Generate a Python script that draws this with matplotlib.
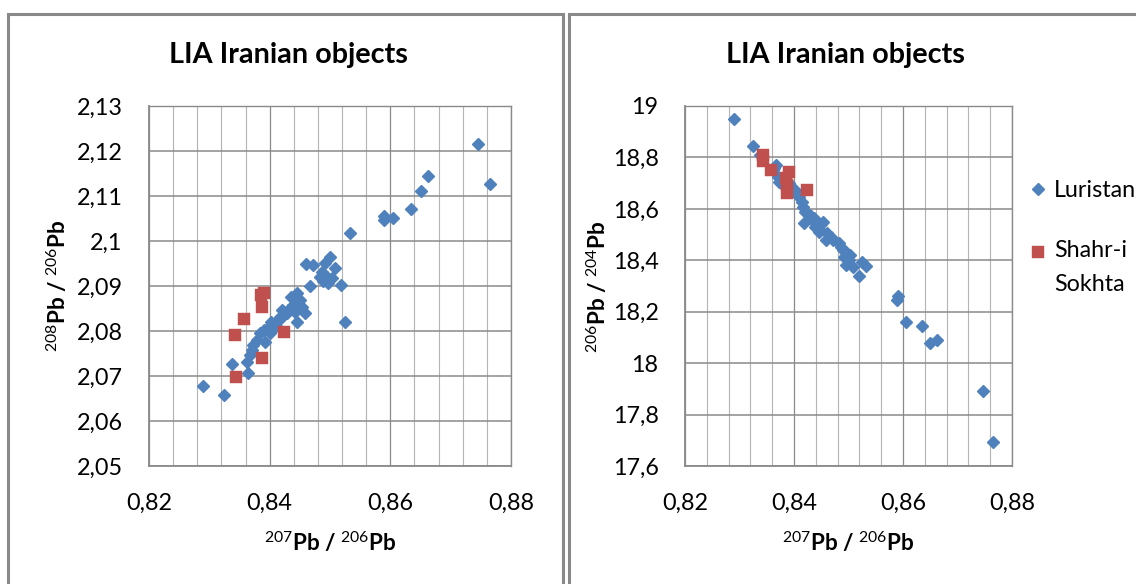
import matplotlib
matplotlib.use("Agg")
import matplotlib.pyplot as plt
from matplotlib.ticker import MultipleLocator, FuncFormatter
from matplotlib.patches import Rectangle
from matplotlib.legend_handler import HandlerLine2D

plt.rcParams['font.family'] = ['Lato', 'DejaVu Sans']
plt.rcParams['mathtext.fontset'] = 'custom'
plt.rcParams['mathtext.rm'] = 'Lato'
plt.rcParams['mathtext.bf'] = 'Lato:bold'

# ---------------- data ----------------
title_text = "LIA Iranian objects"
series_names = ["Luristan", "Shahr-i\nSokhta"]

lur_207_206 = [0.8289, 0.8324, 0.8337, 0.8362, 0.8364, 0.8367, 0.8370, 0.8373, 0.8379, 0.8384,
               0.8390, 0.8392, 0.8398, 0.8401, 0.8403, 0.8410, 0.8414, 0.8417, 0.8418, 0.8421,
               0.8429, 0.8431, 0.8436, 0.8439, 0.8442, 0.8445, 0.8445, 0.8450, 0.8453, 0.8459,
               0.8461, 0.8467, 0.8472, 0.8483, 0.8486, 0.8489, 0.8492, 0.8495, 0.8497, 0.8500,
               0.8503, 0.8508, 0.8519, 0.8525, 0.8533, 0.8589, 0.8590, 0.8605, 0.8635, 0.8650,
               0.8663, 0.8746, 0.8765]
lur_208_206 = [2.0678, 2.0658, 2.0726, 2.0732, 2.0706, 2.0747, 2.0758, 2.0769, 2.0780, 2.0795,
               2.0802, 2.0776, 2.0806, 2.0795, 2.0821, 2.0810, 2.0824, 2.0832, 2.0828, 2.0847,
               2.0840, 2.0847, 2.0876, 2.0858, 2.0843, 2.0884, 2.0821, 2.0869, 2.0854, 2.0839,
               2.0948, 2.0899, 2.0947, 2.0921, 2.0932, 2.0910, 2.0950, 2.0921, 2.0906, 2.0965,
               2.0917, 2.0939, 2.0902, 2.0819, 2.1018, 2.1056, 2.1047, 2.1050, 2.1070, 2.1110,
               2.1144, 2.1215, 2.1127]
lur_206_204 = [18.949, 18.846, 18.810, 18.751, 18.760, 18.771, 18.725, 18.706, 18.720, 18.686,
               18.700, 18.680, 18.670, 18.673, 18.660, 18.647, 18.628, 18.608, 18.544, 18.589,
               18.576, 18.560, 18.563, 18.531, 18.540, 18.511, 18.520, 18.540, 18.550, 18.479,
               18.505, 18.490, 18.479, 18.466, 18.450, 18.440, 18.414, 18.382, 18.427, 18.401,
               18.420, 18.375, 18.339, 18.394, 18.379, 18.245, 18.260, 18.161, 18.144, 18.077,
               18.090, 17.891, 17.692]

shs_207_206 = [0.8390, 0.8386, 0.8388, 0.8358, 0.8343, 0.8423, 0.8387, 0.8344]
shs_208_206 = [2.0884, 2.0880, 2.0854, 2.0827, 2.0791, 2.0798, 2.0739, 2.0697]
shs_206_204 = [18.745, 18.719, 18.693, 18.751, 18.809, 18.673, 18.660, 18.787]

x_limits = (0.82, 0.88)
y1_limits = (2.05, 2.13)
y2_limits = (17.6, 19.0)

# ---------------- style ----------------
W, H = 1136, 584
BLUE = "#4F81BD"
RED = "#C0504D"
FRAME = "#898989"
GRID_MAJOR = "#8a8a8a"
GRID_MINOR = "#b4b4b4"

fig = plt.figure(figsize=(W / 100, H / 100), dpi=100)
fig.patch.set_facecolor("white")


def px_rect(l, t, r, b):
    return [l / W, 1 - b / H, (r - l) / W, (b - t) / H]


# panel frames (extend beyond the image like the reference crop)
fig.add_artist(Rectangle((7.5 / W, -0.2), (563.3 - 7.5) / W, 1.2 - 13.8 / H,
                         transform=fig.transFigure, fill=False, ec=FRAME, lw=2.2))
fig.add_artist(Rectangle((569.2 / W, -0.2), 0.6, 1.2 - 13.8 / H,
                         transform=fig.transFigure, fill=False, ec=FRAME, lw=2.2))

ax1 = fig.add_axes(px_rect(149, 106, 511, 466))
ax2 = fig.add_axes(px_rect(685, 106, 1012, 466))


def fmt(v, pos):
    s = ("%.4f" % v).rstrip("0").rstrip(".")
    return s.replace(".", ",")


renderer = fig.canvas.get_renderer()


def fit_size(txt, target_px, **kw):
    t = fig.text(0, 0, txt, fontsize=20, **kw)
    w = t.get_window_extent(renderer).width
    t.remove()
    return 20 * target_px / w


tick_fs = fit_size("0,84", 46)
lab_fs = fit_size(r"$^{207}$Pb / $^{206}$Pb", 132, fontweight="bold")
title_fs = fit_size(title_text, 238, fontweight="bold")
leg_fs = fit_size("Shahr-i", 73)

for ax, ys_l, ys_s, ylim, ymaj, ylab in [
        (ax1, lur_208_206, shs_208_206, y1_limits, 0.01, r"$^{208}$Pb / $^{206}$Pb"),
        (ax2, lur_206_204, shs_206_204, y2_limits, 0.2, r"$^{206}$Pb / $^{204}$Pb")]:
    ax.set_xlim(*x_limits)
    ax.set_ylim(*ylim)
    ax.xaxis.set_major_locator(MultipleLocator(0.02))
    ax.xaxis.set_minor_locator(MultipleLocator(0.004))
    ax.yaxis.set_major_locator(MultipleLocator(ymaj))
    ax.xaxis.set_major_formatter(FuncFormatter(fmt))
    ax.yaxis.set_major_formatter(FuncFormatter(fmt))
    ax.grid(True, which="major", axis="y", color=GRID_MAJOR, lw=1.1, zorder=0)
    ax.grid(True, which="major", axis="x", color=GRID_MAJOR, lw=0.9, zorder=0)
    ax.grid(True, which="minor", axis="x", color=GRID_MINOR, lw=0.8, zorder=0)
    ax.set_axisbelow(True)
    for sp in ax.spines.values():
        sp.set_color(GRID_MAJOR)
        sp.set_linewidth(1.0)
    ax.spines["left"].set_linewidth(1.3)
    ax.spines["bottom"].set_linewidth(1.3)
    ax.tick_params(which="both", length=0, labelsize=tick_fs, colors="black")
    ax.tick_params(axis="x", pad=19)
    ax.tick_params(axis="y", pad=19)

    ax.plot(lur_207_206, ys_l, linestyle="none", marker="D", ms=6.3, mfc=BLUE,
            mec=BLUE, mew=1.0, label=series_names[0], zorder=3, clip_on=False)
    ax.plot(shs_207_206, ys_s, linestyle="none", marker="s", ms=8.9, mfc=RED,
            mec=RED, mew=0.3, label=series_names[1], zorder=4, clip_on=False)

    ax.set_xlabel(r"$^{207}$Pb / $^{206}$Pb", fontsize=lab_fs, fontweight="bold")
    ax.set_ylabel(ylab, fontsize=lab_fs, fontweight="bold", va="center")

ax1.xaxis.set_label_coords(0.5, -0.178)
ax2.xaxis.set_label_coords(0.5, -0.178)
ax1.yaxis.set_label_coords((57 - 149) / 362, 0.5)
ax2.yaxis.set_label_coords((597 - 685) / 327, 0.497)

fig.text(288 / W, 1 - 55 / H, title_text, fontsize=title_fs, fontweight="bold",
         ha="center", va="center")
fig.text(845 / W, 1 - 55 / H, title_text, fontsize=title_fs, fontweight="bold",
         ha="center", va="center")


class FirstLineHandler(HandlerLine2D):
    """Put the legend key level with the first line of a wrapped label."""

    def __init__(self, shift_pt=0.0, **kw):
        super().__init__(**kw)
        self.shift_pt = shift_pt

    def create_artists(self, legend, orig_handle, xdescent, ydescent,
                       width, height, fontsize, trans):
        return super().create_artists(legend, orig_handle, xdescent,
                                      ydescent - 2 * self.shift_pt, width,
                                      height, fontsize, trans)


line_gap_px = 32
handles, labels = ax2.get_legend_handles_labels()
leg = ax2.legend(handles, labels, loc="upper left",
                 bbox_to_anchor=(1030 / W, 1 - 180 / H),
                 bbox_transform=fig.transFigure, frameon=False, fontsize=leg_fs,
                 handlelength=0.7, handletextpad=0.35, labelspacing=1.7,
                 borderpad=0, borderaxespad=0,
                 handler_map={handles[1]: FirstLineHandler(shift_pt=line_gap_px / 1.389 / 2)})
for t in leg.get_texts():
    t.set_linespacing(1.74)

fig.savefig("out.png", dpi=100, facecolor="white")
